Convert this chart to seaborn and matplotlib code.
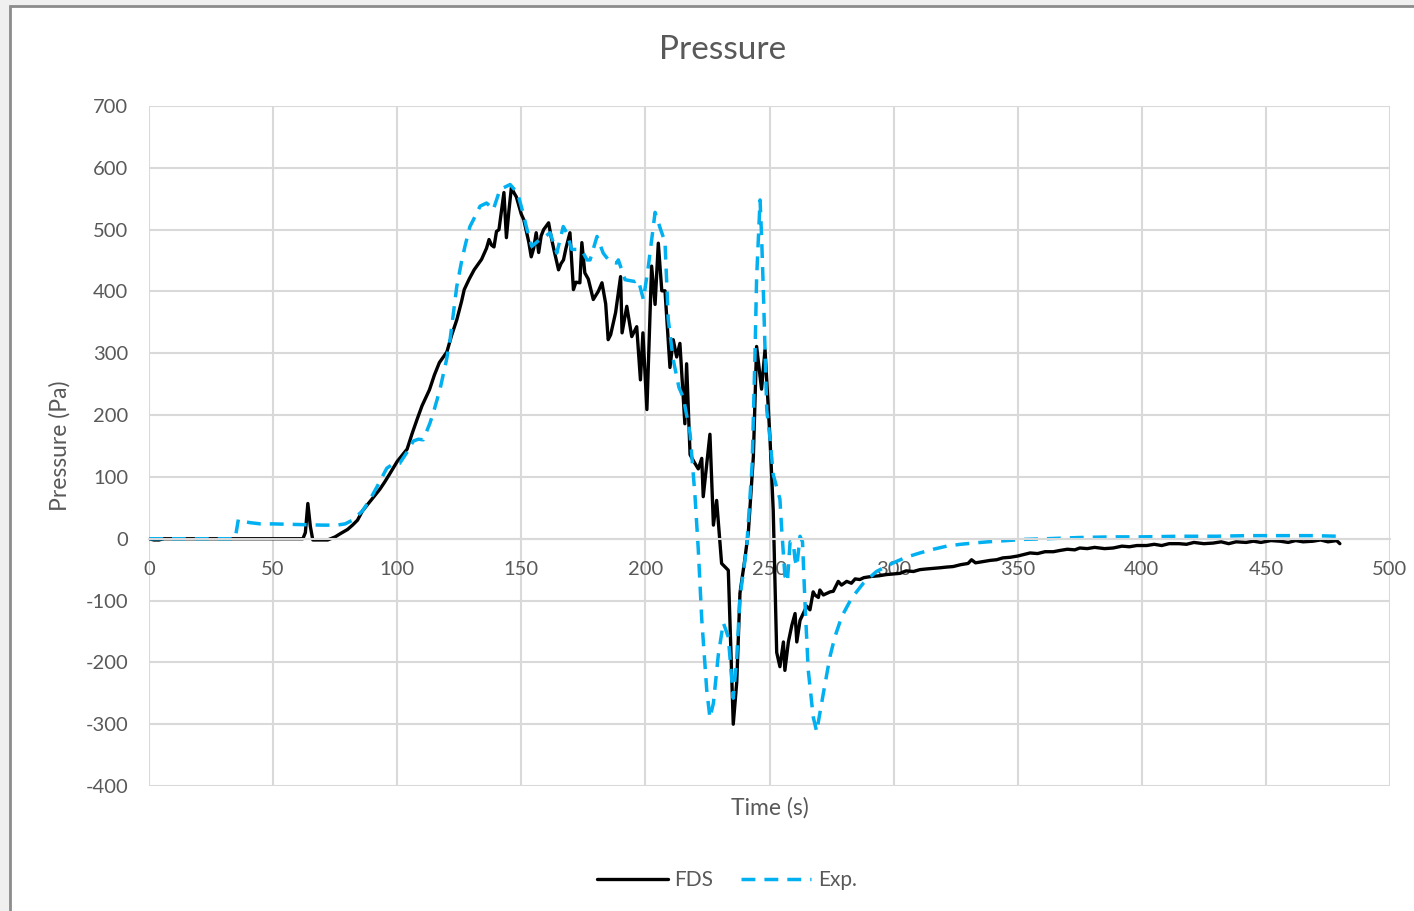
import matplotlib
matplotlib.use('Agg')
import matplotlib.pyplot as plt
from matplotlib.patches import Rectangle
import pandas as pd
import seaborn as sns

# FDS simulation
fds_time = [0, 2, 4, 6, 10, 20, 30, 40, 50, 60, 62, 63, 64, 65, 66, 70, 72, 75, 77, 80,
            82, 84, 86, 88, 90, 93, 95, 97, 100, 102, 104, 106, 108, 110, 113, 115, 117, 120, 122, 124,
            126, 127, 129, 131, 134, 136, 137, 138, 139, 140, 141, 142, 143, 144, 145, 146, 147, 148, 150, 151,
            153, 154, 155, 156, 157, 158, 159, 161, 162, 163, 165, 166, 167, 168, 169.6, 171, 172, 173.6, 174.4, 175.6,
            177, 179, 181, 182.5, 184, 185, 186, 188, 190, 190.6, 192.5, 194.5, 196.5, 198, 199, 200.6, 202.5, 203.9, 205.2, 206.6,
            207.9, 209.9, 211.2, 212.6, 213.9, 215.9, 216.6, 218, 219.5, 221.3, 222.7, 223.3, 226, 227.4, 228.7, 230.7, 233.4, 235.4, 236.8, 238.1,
            240, 241.5, 243.5, 244.8, 246.8, 248.2, 250.2, 251.5, 252.9, 254.2, 255.6, 256.2, 257.6, 259, 260.3, 261, 262.3, 265, 266.3, 267.6,
            268.3, 269.7, 270.3, 271.7, 274.4, 275.7, 277.7, 279, 281.1, 283, 284.5, 286.4, 288, 291.1, 294, 297.1, 300, 302.6, 305, 308,
            310.6, 313, 316, 318.7, 321, 324, 327, 330, 331.4, 333, 336, 339, 341.5, 344, 347, 350, 353, 355, 358, 361,
            364.4, 367, 370, 373, 375, 378, 381, 385, 388.5, 392, 395, 398, 402, 405, 408, 411, 415, 418, 421, 425,
            428.8, 432, 435, 438, 442, 445, 448, 452, 455.7, 459, 462, 465, 469, 472, 475, 478.5, 479.8]
fds_pressure = [0, -2, -2, 0, 0, 0, 0, 0, 0, 0, 0, 10, 57, 20, -2, -2, -2, 3, 8, 15,
                22, 30, 45, 55, 65, 80, 92, 105, 125, 135, 145, 170, 193, 215, 241, 265, 285, 302, 330, 354,
                385, 403, 420, 435, 452, 470, 484, 475, 472, 497, 500, 530, 560, 487, 530, 568, 560, 553, 525, 516,
                480, 456, 470, 495, 463, 490, 500, 511, 489, 470, 435, 445, 451, 470, 495, 403, 415, 414, 479, 430,
                420, 387, 400, 414, 380, 322, 330, 366, 424, 333, 376, 327, 343, 257, 333, 209, 441, 379, 478, 401,
                401, 277, 322, 294, 316, 186, 283, 136, 125, 113, 130, 68, 169, 22, 62, -40, -51, -300, -232, -88,
                -35, 12, 133, 311, 242, 306, 162, 46, -184, -207, -167, -213, -167, -140, -121, -167, -132, -109, -115, -86,
                -91, -95, -83, -91, -86, -85, -69, -75, -69, -72, -65, -66, -63, -61, -60, -58, -57, -56, -52, -53,
                -50, -49, -48, -47, -46, -45, -42, -40, -34, -39, -37, -35, -34, -31, -30, -28, -25, -23, -24, -21,
                -21, -19, -17, -18, -15, -16, -14, -16, -15, -12, -13, -11, -11, -9, -11, -8, -8, -9, -6, -8,
                -7, -5, -8, -5, -6, -4, -6, -3, -4, -6, -3, -5, -4, -2, -5, -3, -8]

# Experiment
exp_time = [0, 10, 20, 30, 34.7, 36, 38, 40.7, 45, 50, 60, 70, 75.7, 79, 82, 86, 89, 92, 95.8, 98,
            101, 103.8, 106.5, 108.5, 110.5, 113.2, 115, 117.2, 119.9, 121.3, 124, 126, 127.3, 129.3, 130.7, 133.4, 136, 137.4, 138.7, 141.4,
            143, 145.5, 148.5, 150.5, 152.2, 154.2, 157.5, 160, 161.6, 164.3, 166.9, 168.3, 170.3, 173.6, 175, 176.5, 177.7, 180.5, 183, 185.7,
            188.4, 189.1, 191.8, 195.8, 197.1, 199.2, 201.2, 203.9, 205.9, 207.9, 209.2, 211.2, 213.5, 215.3, 218, 220, 221.3, 222.7, 224.7, 226,
            227.4, 229.4, 231.4, 233.4, 235.4, 236.8, 238.1, 240.8, 243, 244.2, 244.8, 246.2, 246.8, 247.5, 248.2, 248.9, 250.2, 251.5, 254.2, 254.9,
            256.2, 257.2, 258.3, 259.6, 260.3, 261, 262.3, 263.3, 264.3, 265.6, 267.6, 269, 271.7, 274.4, 276.4, 279.1, 283.1, 287.8, 293.1, 299.9,
            305, 310.6, 316, 321.4, 327, 332.1, 338, 345.5, 353, 361.6, 375, 388.5, 400, 415.4, 430, 442.3, 455, 469.1, 479.2]
exp_pressure = [0, 0, 0, 0, 0, 31, 28, 26, 24, 24, 23, 22, 22, 24, 30, 45, 63, 85, 114, 120,
                122, 139, 158, 161, 160, 187, 210, 241, 290, 322, 408, 450, 473, 505, 516, 538, 543, 538, 532, 565,
                568, 573, 559, 530, 502, 473, 484, 490, 495, 462, 505, 495, 468, 468, 462, 451, 451, 489, 462, 448,
                446, 451, 419, 416, 419, 387, 441, 528, 503, 480, 355, 290, 245, 228, 170, 68, -17, -130, -244, -290,
                -266, -187, -136, -159, -258, -193, -95, -14, 120, 306, 421, 548, 490, 404, 306, 208, 162, 104, 64, 16,
                -60, -70, -5, -7, -34, -45, 4, -5, -104, -212, -288, -312, -250, -190, -158, -126, -96, -72, -53, -39,
                -30, -23, -17, -12, -9, -7, -5, -3, -1, 0, 2, 3, 3, 4, 4, 5, 5, 5, 4]

x_ticks = list(range(0, 501, 50))
y_ticks = list(range(-400, 701, 100))

TEXT = '#595959'
GRID = '#d9d9d9'
BLUE = '#00b0f0'


def main():
    sns.set_style('white')
    plt.rcParams['font.family'] = ['Lato', 'DejaVu Sans']
    plt.rcParams['axes.unicode_minus'] = False  # Excel style hyphen minus

    fds = pd.DataFrame({'t': fds_time, 'p': fds_pressure})
    exp = pd.DataFrame({'t': exp_time, 'p': exp_pressure})

    fig = plt.figure(figsize=(14.14, 9.11), dpi=100)
    fig.patch.set_facecolor('#f0f0f0')
    # white chart area with grey frame on left/top
    fig.patches.append(Rectangle((10 / 1414, -0.05), 1.1, 1.05 - 6 / 911,
                                 transform=fig.transFigure, facecolor='white',
                                 edgecolor='#8c8c8c', linewidth=2, zorder=-1))

    ax = fig.add_axes([149 / 1414, 1 - 786 / 911, 1241 / 1414, 680 / 911])
    ax.set_zorder(2)
    ax.set_facecolor('white')

    sns.lineplot(data=fds, x='t', y='p', ax=ax, color='black', linewidth=2.4,
                 estimator=None, sort=False, label='FDS')
    sns.lineplot(data=exp, x='t', y='p', ax=ax, color=BLUE, linewidth=2.5,
                 estimator=None, sort=False, label='Exp.')
    ax.lines[1].set_dashes([4.0, 2.6])

    ax.set_xlim(0, 500)
    ax.set_ylim(-400, 700)
    ax.set_xticks(x_ticks)
    ax.set_yticks(y_ticks)
    ax.grid(True, color=GRID, linewidth=1.5)
    ax.set_axisbelow(True)

    for s in ['top', 'right', 'left']:
        ax.spines[s].set_visible(False)
    ax.spines['bottom'].set_position(('data', 0))
    ax.spines['bottom'].set_color(GRID)
    ax.spines['bottom'].set_linewidth(1.5)

    ax.tick_params(axis='x', length=0, pad=16, labelsize=14.5, labelcolor=TEXT)
    ax.tick_params(axis='y', length=0, pad=15, labelsize=14.5, labelcolor=TEXT)

    ax.set_xlabel('Time (s)', fontsize=16.5, color=TEXT)
    ax.xaxis.set_label_coords(0.5, -(808 - 786) / 680)
    ax.xaxis.label.set_va('center')
    ax.set_ylabel('Pressure (Pa)', fontsize=16.5, color=TEXT)
    ax.yaxis.set_label_coords((60 - 149) / 1241, 0.5)
    ax.yaxis.label.set_va('center')

    fig.text(723 / 1414, 1 - 50 / 911, 'Pressure', fontsize=24, color=TEXT,
             ha='center', va='center')

    handles, labels = ax.get_legend_handles_labels()
    ax.get_legend().remove()
    fig.legend(handles, labels, loc='center', bbox_to_anchor=(727 / 1414, 1 - 880 / 911),
               ncol=2, frameon=False, fontsize=15, labelcolor=TEXT,
               handlelength=3.4, handletextpad=0.3, columnspacing=1.3)

    fig.savefig('out.png', dpi=100, facecolor=fig.get_facecolor())


if __name__ == '__main__':
    main()
